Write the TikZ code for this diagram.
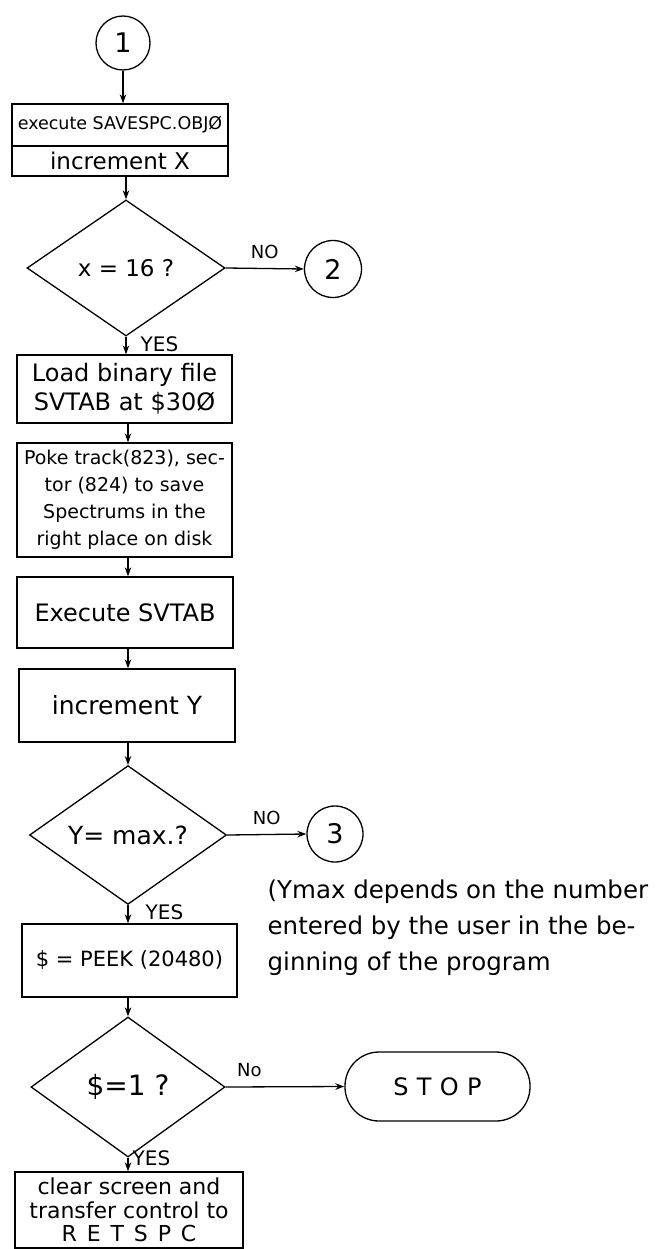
\documentclass[tikz,border=0pt]{standalone}
\usepackage{fontspec}
\setmainfont{DejaVu Sans}
\usetikzlibrary{shapes.geometric,arrows.meta}
\newcommand{\fs}[1]{\fontsize{#1}{#1}\selectfont}
\begin{document}
\begin{tikzpicture}[x=1pt,y=-1pt,
  line width=1.3pt,
  flowbox/.style={draw,rectangle,inner sep=1pt,align=center},
  connector/.style={draw,circle,inner sep=0pt,font=\fs{27}},
  decision/.style={draw,diamond,inner sep=0pt,font=\fs{23}},
  arr/.style={-{Stealth[length=9pt,width=6.5pt]}},
  lbl/.style={font=\fs{18},inner sep=0pt},
  yeslbl/.style={font=\fs{20},inner sep=0pt},
]
\useasboundingbox (0,0) rectangle (659,1249);

% connector 1 and the first two-part box
\node[connector,minimum size=54pt] (c1) at (123,43) {1};
\node[flowbox,minimum width=216pt,minimum height=42pt,font=\fs{17.5}] (b1a) at (120,125) {execute SAVESPC.OBJØ};
\node[flowbox,minimum width=216pt,minimum height=30pt,font=\fs{23}] (b1b) at (120,161) {increment X};

% first decision
\node[decision,minimum width=198pt,minimum height=136pt] (d1) at (126,268) {x = 16 ?};
\node[connector,minimum size=57pt] (c2) at (333,269) {2};

% binary file load, POKE, SVTAB, counter
\node[flowbox,minimum width=215pt,minimum height=68pt,font=\fontsize{24}{29}\selectfont] (load) at (124.5,389) {Load binary file\\SVTAB at \$30Ø};
\node[flowbox,minimum width=215pt,minimum height=114pt,font=\fontsize{19}{27}\selectfont] (poke) at (124.5,500) {Poke track(823), sec-\\tor (824) to save\\Spectrums in the\\right place on disk};
\node[flowbox,minimum width=216pt,minimum height=71pt,font=\fs{24}] (exec) at (125,612.5) {Execute SVTAB};
\node[flowbox,minimum width=216pt,minimum height=73pt,font=\fs{25}] (incy) at (127,705.5) {increment Y};

% second decision
\node[decision,minimum width=197pt,minimum height=135pt,font=\fs{25}] (d2) at (128,835) {Y= max.?};
\node[connector,minimum size=56pt] (c3) at (335,834) {3};
\node[anchor=north west,align=left,inner sep=0pt,font=\fontsize{24.5}{36}\selectfont] (note) at (267,879)
  {(Ymax depends on the number\\entered by the user in the be-\\ginning of the program};

\node[flowbox,minimum width=215pt,minimum height=73pt,font=\fs{21}] (peek) at (129.5,960.5) {\$ = PEEK (20480)};

% third decision
\node[decision,minimum width=194pt,minimum height=140pt,font=\fs{28}] (d3) at (128,1087) {\$=1 ?};
\node[draw,rectangle,rounded corners=34pt,minimum width=185pt,minimum height=69pt,
      font=\fs{24}\addfontfeature{LetterSpace=35}] (stop) at (437.5,1086.5) {STOP};
\node[flowbox,minimum width=228pt,minimum height=76pt,font=\fontsize{22}{23.5}\selectfont] (last) at (129,1210)
  {clear screen and\\transfer control to\\{\addfontfeature{LetterSpace=45}RETSPC}};

% connectors
\draw[arr] (c1) -- (c1 |- b1a.north);
\draw[arr] (d1.north |- b1b.south) -- (d1.north);
\draw[arr] (d1.east) -- (c2.west) node[lbl,midway,above=9pt] (no1) {NO};
\draw[arr] (d1.south) -- (d1.south |- load.north) node[yeslbl,pos=0.4,right=14pt] (yes1) {YES};
\draw[arr] (d2.north |- load.south) -- (d2.north |- poke.north);
\draw[arr] (d2.north |- poke.south) -- (d2.north |- exec.north);
\draw[arr] (d2.north |- exec.south) -- (d2.north |- incy.north);
\draw[arr] (d2.north |- incy.south) -- (d2.north);
\draw[arr] (d2.east) -- (c3.west) node[lbl,midway,above=9pt] (no2) {NO};
\draw[arr] (d2.south) -- (d2.south |- peek.north) node[yeslbl,pos=0.4,right=17pt] (yes2) {YES};
\draw[arr] (d3.north |- peek.south) -- (d3.north);
\draw[arr] (d3.east) -- (stop.west) node[lbl,pos=0.2,above=10pt] (no3) {No};
\draw[arr] (d3.south) -- (d3.south |- last.north) node[yeslbl,pos=0.05,right=4pt] (yes3) {YES};
\end{tikzpicture}
\end{document}
